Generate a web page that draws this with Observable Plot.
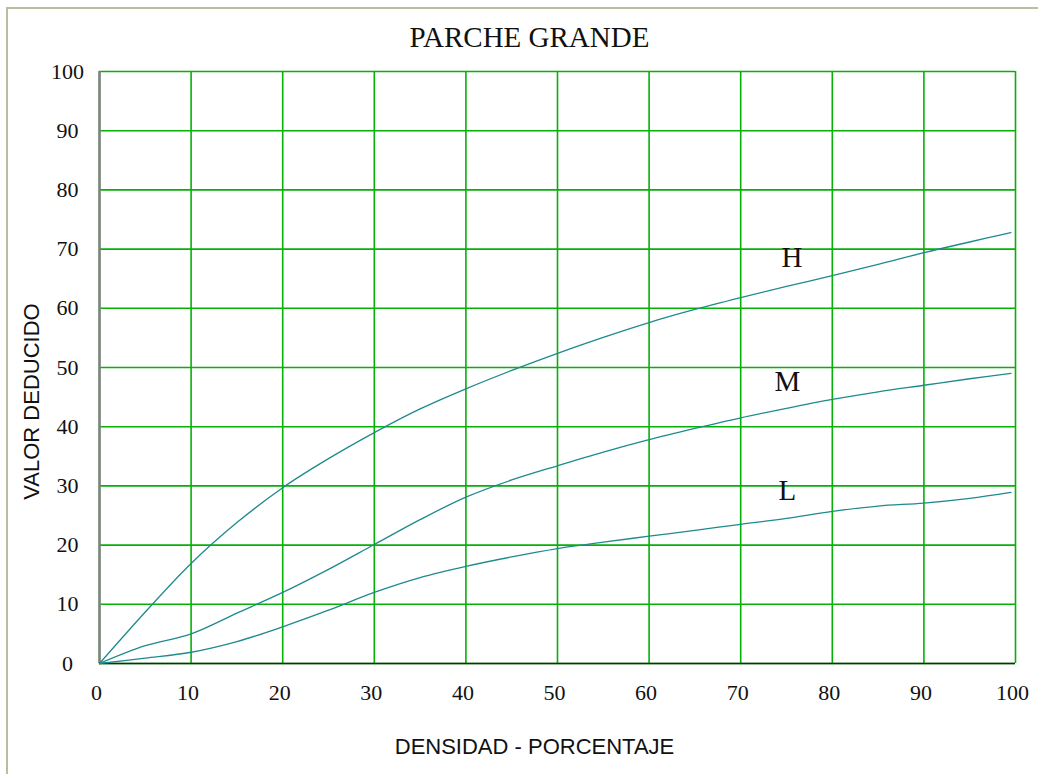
<!DOCTYPE html>
<html>
<head>
<meta charset="utf-8">
<script src="https://cdn.jsdelivr.net/npm/d3@7"></script>
<script src="https://cdn.jsdelivr.net/npm/@observablehq/plot@0.6"></script>
<style>
  html, body { margin: 0; padding: 0; background: #fff; }
  #wrap { position: relative; width: 1038px; height: 774px; overflow: hidden; }
  #edge { position: absolute; left: 6px; top: 7px; width: 1040px; height: 780px;
          border-left: 2px solid #bcbc9e; border-top: 2px solid #bcbc9e; }
  #chart { position: absolute; left: 0; top: 0; }
</style>
</head>
<body>
<div id="wrap"><div id="edge"></div><div id="chart"></div></div>
<script>
const titleText = "PARCHE GRANDE";
const xLabel = "DENSIDAD - PORCENTAJE";
const yLabel = "VALOR DEDUCIDO";

const xTicks = [0, 10, 20, 30, 40, 50, 60, 70, 80, 90, 100];
const yTicks = [0, 10, 20, 30, 40, 50, 60, 70, 80, 90, 100];

const density = [0, 5, 10, 15, 20, 25, 30, 35, 40, 45, 50, 55, 60, 65, 70, 75, 80, 85, 90, 95, 99.5];
const valH = [0, 8.7, 16.9, 23.8, 29.7, 34.6, 39.0, 43.0, 46.4, 49.5, 52.4, 55.1, 57.6, 59.8, 61.8, 63.7, 65.5, 67.4, 69.4, 71.2, 72.8];
const valM = [0, 3.0, 5.0, 8.5, 12.0, 15.9, 20.1, 24.3, 28.1, 31.0, 33.4, 35.7, 37.8, 39.7, 41.5, 43.1, 44.6, 45.9, 47.0, 48.1, 49.0];
const valL = [0, 0.9, 1.9, 3.7, 6.2, 9.0, 12.0, 14.5, 16.4, 18.0, 19.4, 20.5, 21.5, 22.5, 23.5, 24.5, 25.7, 26.6, 27.1, 27.9, 28.9];

const curveNames = ["H", "M", "L"];
const labelX = [75.6, 75.1, 75.1];
const labelY = [68.6, 47.6, 29.2];

const series = [valH, valM, valL];
const rows = [];
series.forEach((vals, i) => vals.forEach((v, j) => rows.push({name: curveNames[i], x: density[j], y: v})));
const labels = curveNames.map((n, i) => ({name: n, x: labelX[i], y: labelY[i]}));

const green = "#06b006";
const teal = "#1e8a8c";

const chart = Plot.plot({
  width: 1038,
  height: 774,
  marginLeft: 99,
  marginRight: 23,
  marginTop: 71,
  marginBottom: 111,
  style: {background: "transparent", fontFamily: "'Liberation Serif', serif"},
  x: {domain: [0, 100]},
  y: {domain: [0, 100]},
  marks: [
    Plot.gridX(xTicks, {stroke: green, strokeOpacity: 1, strokeWidth: 1.6}),
    Plot.gridY(yTicks, {stroke: green, strokeOpacity: 1, strokeWidth: 1.6}),
    Plot.ruleX([0], {stroke: "#808080", strokeWidth: 2.5}),
    Plot.ruleY([0], {stroke: "#222", strokeWidth: 1.6}),
    Plot.line(rows, {x: "x", y: "y", z: "name", stroke: teal, strokeWidth: 1.3, curve: "catmull-rom"}),
    Plot.text(labels, {x: "x", y: "y", text: "name", fontSize: 29, fill: "#111",
      fontFamily: "'Liberation Serif', serif", lineAnchor: "middle"}),
    Plot.axisY(yTicks, {tickSize: 0, tickPadding: 32, textAnchor: "middle", fontSize: 22, fill: "#111",
      fontFamily: "'Liberation Serif', serif", label: null}),
    Plot.axisX(xTicks, {tickSize: 0, tickPadding: 21, fontSize: 22, fill: "#111", dx: -3,
      fontFamily: "'Liberation Serif', serif", label: null}),
    Plot.text([titleText], {frameAnchor: "top", dx: -28, dy: -34, lineAnchor: "middle",
      fontSize: 29, fill: "#111", fontFamily: "'Liberation Serif', serif"}),
    Plot.text([xLabel], {frameAnchor: "bottom", dx: -23, dy: 83, lineAnchor: "middle",
      fontSize: 22, fill: "#111", fontFamily: "'Liberation Sans', Arial, sans-serif"}),
    Plot.text([yLabel], {frameAnchor: "left", dx: -68, dy: 34, rotate: -90, textAnchor: "middle",
      lineAnchor: "middle", fontSize: 22, fill: "#111", fontFamily: "'Liberation Sans', Arial, sans-serif"})
  ]
});
document.getElementById("chart").appendChild(chart);
</script>
</body>
</html>
